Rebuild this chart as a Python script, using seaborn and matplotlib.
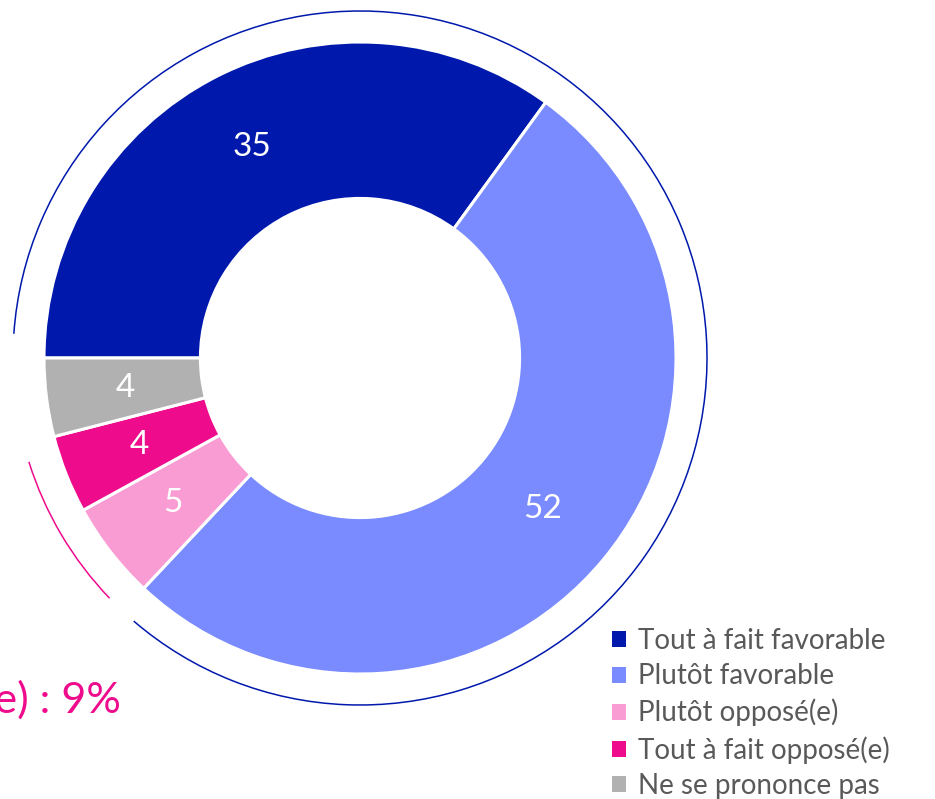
import matplotlib
matplotlib.use("Agg")
import matplotlib.pyplot as plt
import seaborn as sns
from matplotlib.patches import Arc, Patch

# données du sondage (%)
categories = ["Tout à fait favorable", "Plutôt favorable", "Plutôt opposé(e)",
              "Tout à fait opposé(e)", "Ne se prononce pas"]
values = [35, 52, 5, 4, 4]
colors = ["#0019AC", "#798BFF", "#F99CD3", "#EE0C8C", "#B1B1B1"]
total_opposed_label = "Total opposé(e) : 9%"

sns.set_theme(style="white")
plt.rcParams["font.family"] = ["Lato", "DejaVu Sans"]

W, H, DPI = 935, 799, 100
cx, cy, R = 360, 358, 316  # centre et rayon en pixels

fig = plt.figure(figsize=(W / DPI, H / DPI), dpi=DPI)
ax = fig.add_axes([0, 0, 1, 1])

wedges, texts = ax.pie(
    values,
    colors=colors,
    startangle=180,
    counterclock=False,
    radius=1,
    labels=[str(v) for v in values],
    labeldistance=0.75,
    wedgeprops=dict(width=0.495, edgecolor="white", linewidth=2.2),
    textprops=dict(color="white", fontsize=24),
)
for t in texts:
    t.set_ha("center")
    t.set_va("center")

ax.set_aspect("auto")
ax.set_xlim(-cx / R, (W - cx) / R)
ax.set_ylim((cy - H) / R, cy / R)
ax.axis("off")

# arcs extérieurs : favorable (bleu) et opposé (rose)
r_arc = 347 / R
fav = (values[0] + values[1]) / 100 * 360
opp = (values[2] + values[3]) / 100 * 360
end_fav = 180 - fav
end_opp = end_fav - opp
ax.add_patch(Arc((0, 0), 2 * r_arc, 2 * r_arc, theta1=end_fav + 2.5, theta2=176,
                 color="#0019AC", lw=1.1))
ax.add_patch(Arc((0, 0), 2 * r_arc, 2 * r_arc, theta1=end_opp + 3, theta2=end_fav - 3,
                 color="#EE0C8C", lw=1.1))

ax.text((121 - cx) / R, (cy - 713) / R, total_opposed_label, color="#EE0C8C",
        fontsize=31, ha="right", va="baseline")

handles = [Patch(facecolor=c, edgecolor="none") for c in colors]
leg = ax.legend(handles, categories, loc="upper left",
                bbox_to_anchor=(612 / W, 1 - 628 / H), bbox_transform=fig.transFigure,
                frameon=False, fontsize=20, handlelength=0.5, handleheight=0.5,
                handletextpad=0.45, labelspacing=0.34, borderpad=0, borderaxespad=0)
for t in leg.get_texts():
    t.set_color("#595959")

fig.savefig("out.png", dpi=DPI)
